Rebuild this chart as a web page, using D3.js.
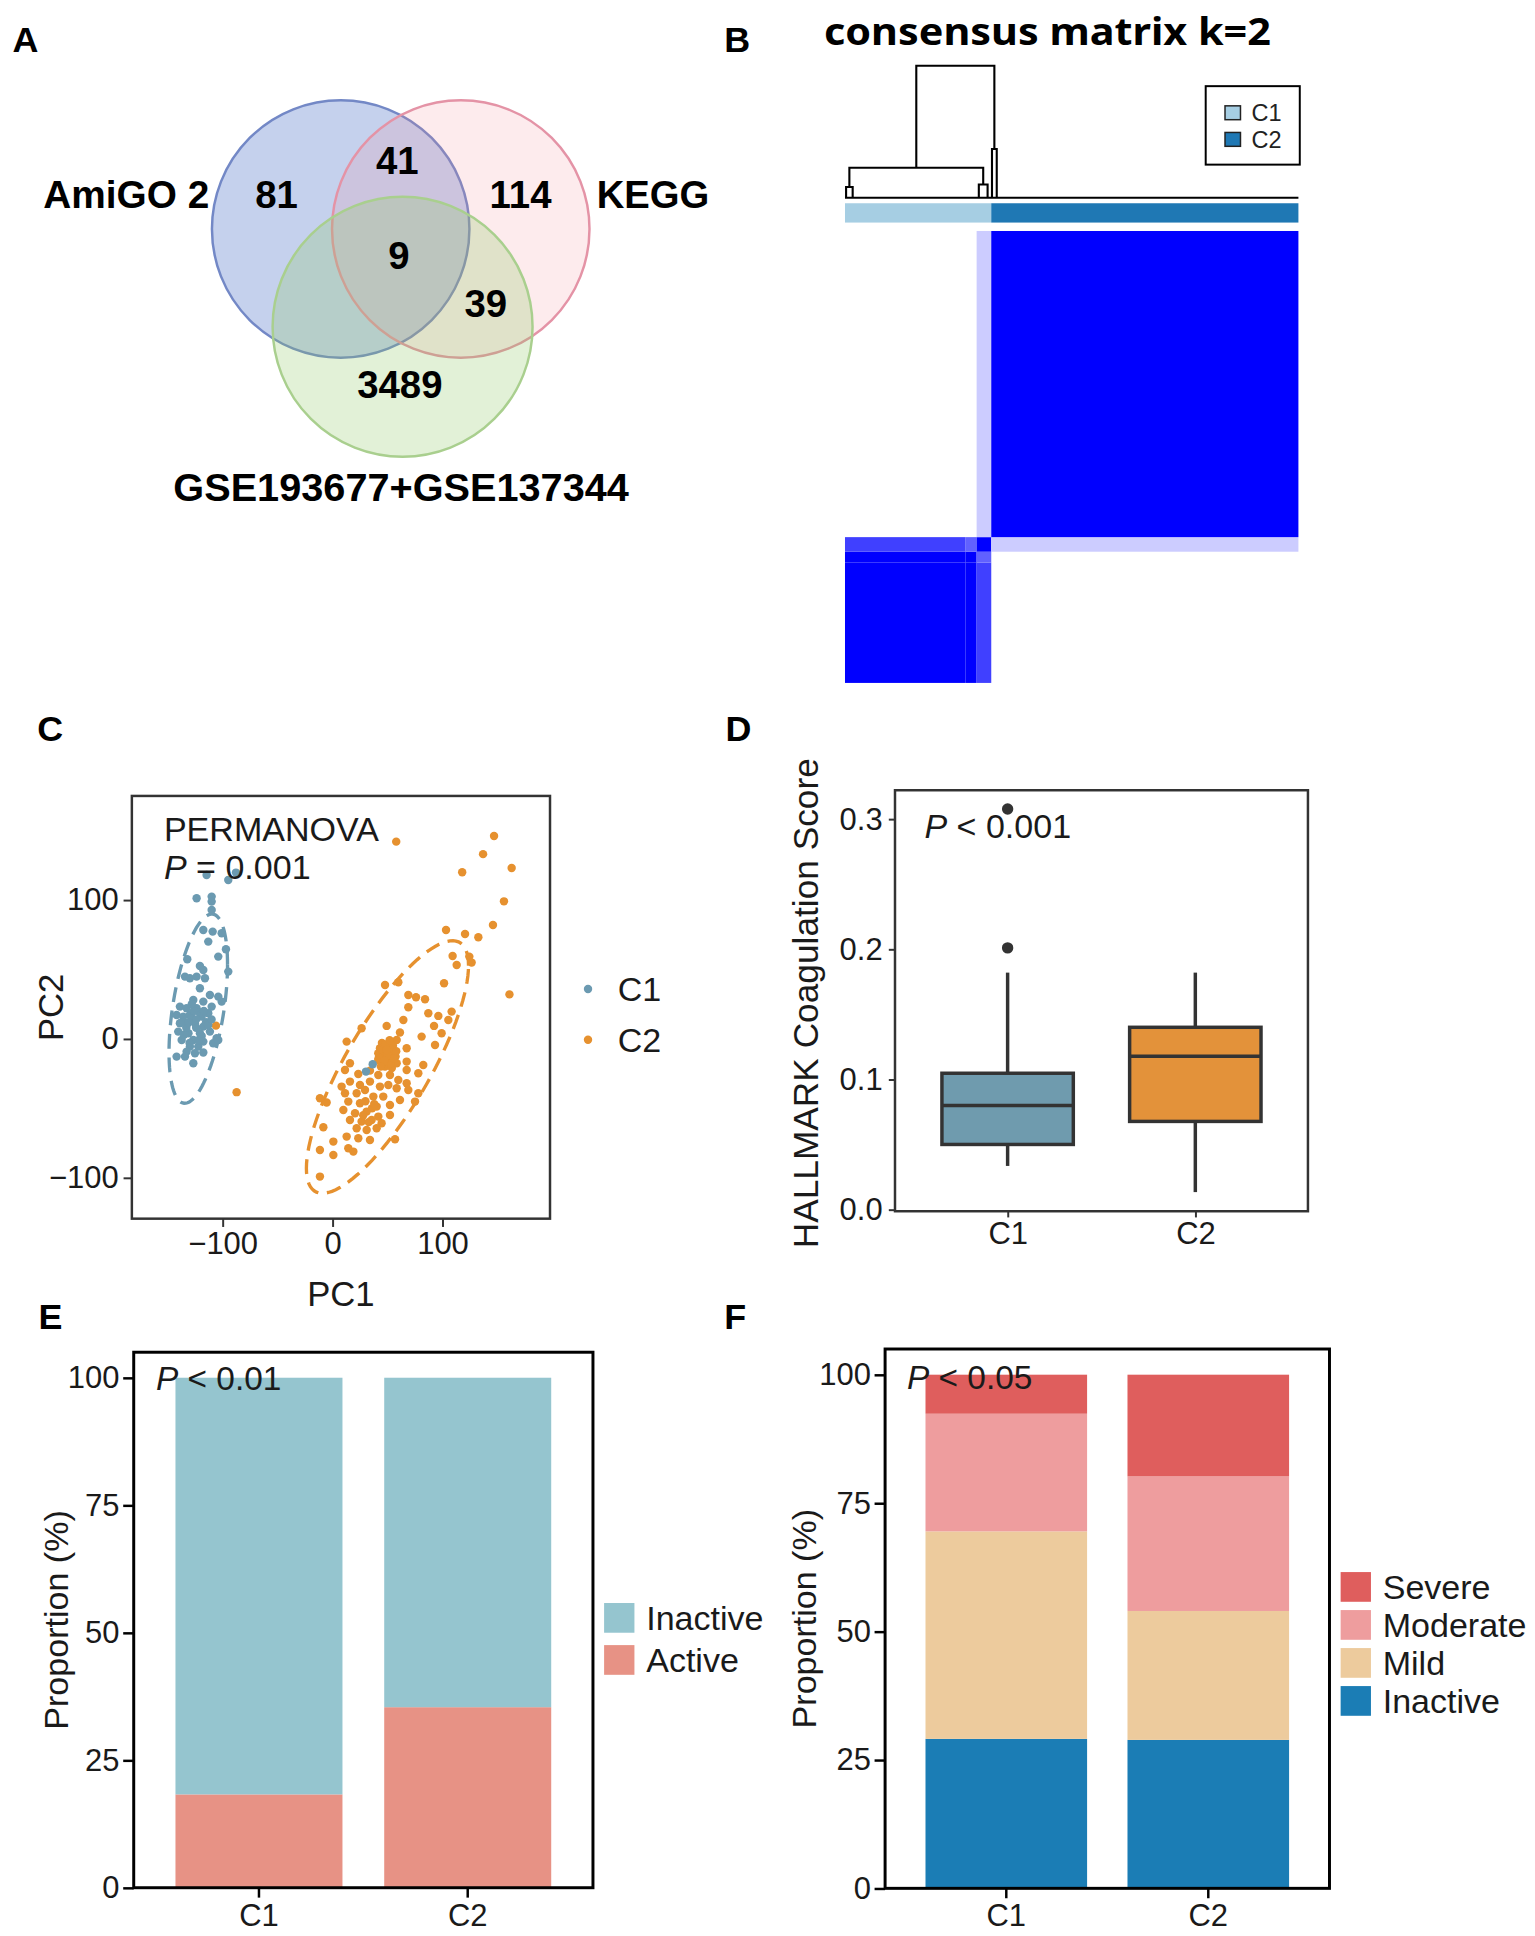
<!DOCTYPE html>
<html>
<head>
<meta charset="utf-8">
<script src="https://cdn.jsdelivr.net/npm/d3@7"></script>
<style>
  body { margin: 0; background: #fff; }
  svg { display: block; }
  text { font-family: "Liberation Sans", Arial, sans-serif; }
</style>
</head>
<body>
<svg id="fig"></svg>
<script>
// ---------------- data ----------------
// A: venn
const vennSets = ["AmiGO 2", "KEGG", "GSE193677+GSE137344"];
const vennRegions = ["A", "K", "G", "AK", "AKG", "KG"];
const vennCounts = [81, 114, 3489, 41, 9, 39];

// B: consensus matrix (sample blocks in column order)
const ccClusters = ["C1", "C2"];
const ccClusterSizes = [40, 84];
const ccBlockSizes = [33, 3, 4, 84];
const ccConsensus = [
  [1.00, 1.00, 0.75, 0.00],
  [1.00, 1.00, 0.62, 0.00],
  [0.75, 0.62, 1.00, 0.20],
  [0.00, 0.00, 0.20, 1.00]
];
// dendrogram merges (x in sample index, h in 1 - consensus)
const dendroMerges = [
  {x1: 0.3,  x2: 2.1,   h1: 0,     h2: 0,     h: 0.081},
  {x1: 36.6, x2: 39.0,  h1: 0,     h2: 0,     h: 0.10},
  {x1: 1.2,  x2: 37.8,  h1: 0.081, h2: 0.10,  h: 0.227},
  {x1: 40.2, x2: 41.5,  h1: 0,     h2: 0,     h: 0.369},
  {x1: 19.5, x2: 40.85, h1: 0.227, h2: 0.369, h: 1}
];

// C: PCA scores
const pcaC1 = [
  [-114.5,118],[-94.8,114.4],[-87.8,119.7],[-123.6,101.2],[-109.9,102.4],[-109.9,98.8],[-109.9,92.8],
  [-117.5,78.4],[-109,77.2],[-100.8,76],[-113,70],[-96.9,64.5],[-132.1,57.3],[-103.9,59.2],[-120.6,52.5],
  [-117.5,49.6],[-134.2,44.8],[-129.7,43.6],[-123.6,44.8],[-116,43.6],[-94.8,48.4],[-120.6,36.4],
  [-111.5,31.6],[-103.9,30.4],[-126.6,28],[-117.5,26.8],[-138.8,23.2],[-132.7,22],[-123.6,22],[-109.9,23.2],
  [-100.8,26.8],[-141.8,17.2],[-135.7,16],[-129.7,17.2],[-119,16],[-113,18.4],[-138.8,11.2],[-132.7,10],
  [-125.1,11.2],[-117.5,8.8],[-140.3,5.2],[-131,4],[-120.6,4],[-111.5,5.2],[-137.2,-0.8],[-126.6,-0.8],
  [-117.5,-2],[-105.4,0.4],[-129.7,-5.6],[-122.1,-5.6],[-108.5,-3.2],[-132.7,-9.2],[-125.1,-10.4],
  [-141.8,-12.8],[-134.2,-12.8],[-126.6,-17.6],[-117.5,-9.9],[-103.9,-0.8],
  [-128,15],[-124,8],[-135,3],[-121,19],[-115,12],[-130,-3],[-126,20],[-119,2],[-133,8],[-113,10],
  [-122,-1],[-128,25],[-117,20],[-137,12],[-110,14],[-124,14],[-131,12],
  [36.6,-18.3],[30.5,-23.6]
];
const pcaC2 = [
  [58,142],[147,146],[137,133],[118,120],[163,123],[156,99],[146,82],[161,32],
  [103.3,78.4],[120.6,75.5],[132.7,73.1],[109.3,59.7],[124.5,59.2],[126.6,54.9],[113,53.2],[101.5,40],
  [47.8,38.8],[59.9,40.7],[69,31.6],[76,29.9],[84.2,28.5],[69,22.7],[87.2,18.4],[96.3,16.5],[108.4,19.6],
  [105.4,13.6],[64.5,13.6],[49.3,9.3],[92.4,9.3],[26.5,7.6],[61.4,4.5],[99.3,4],[81.1,1.6],[12.9,-2],
  [58.4,-0.8],[93.3,-4.4],[67.5,-6.8],[43.2,-6.8],[49.3,-9.2],[55.3,-10.4],[46.2,-12.8],[52.3,-15.2],
  [41.7,-15.2],[58.4,-17.6],[47.8,-20],[67.5,-16.4],[82.6,-18.8],[15.9,-17.6],[11.4,-22.4],[23.5,-25.3],
  [34.1,-22.9],[41.7,-26],[52.3,-26],[67.5,-22.4],[78.1,-24.8],[59.9,-29.6],[67.5,-32],[15.9,-30.8],
  [8.3,-34.4],[25,-33.2],[34.1,-30.8],[43.2,-34.4],[50.8,-33.2],[58.4,-35.6],[69,-36.8],[78.1,-39.2],
  [-11.4,-42.8],[-5.3,-45.9],[11.4,-39.2],[22,-39.2],[29.6,-36.8],[37.2,-41.6],[46.2,-41.6],[61.4,-44],
  [75.1,-45.2],[14.4,-45.2],[25,-46.4],[40.2,-48.8],[52.3,-47.6],[9.9,-51.2],[20.5,-53.6],[31.1,-52.4],
  [41.7,-56],[52.3,-54.8],[15.9,-58.4],[26.5,-59.6],[35.6,-58.4],[44.7,-60.8],[22,-64.4],[31.1,-65.6],
  [40.2,-64.4],[-8.3,-63.7],[0.8,-74],[12.9,-70.4],[23.5,-71.6],[34.1,-72.8],[56.9,-72.3],[-11.4,-80],
  [0.8,-83.6],[14.4,-78.8],[19,-81.2],[-11.4,-99.2],
  [52.3,-6.8],[57.4,-12.8],[41.7,-10.4],[50.8,-17.6],[45,-3],[54,-21],
  [45,-8],[50,-12],[55,-5],[48,-4],[53,-18],[42,-14],[58,-9],[47,-16],[52,-1],[44,-20],[56,-14],[49,-8],
  [30,-45],[36,-50],[28,-55],[38,-47],[33,-60],
  [-106,9.5],[-87.2,-38.4]
];
const pcaGroups = ["C1", "C2"];

// D: box plot of HALLMARK coagulation score
const boxGroups = ["C1", "C2"];
const boxLow = [0.0335, 0.0134];
const boxQ1 = [0.050, 0.0677];
const boxMedian = [0.080, 0.1178];
const boxQ3 = [0.1047, 0.140];
const boxHigh = [0.182, 0.182];
const boxOutliers = [[0.201, 0.3077], []];
const boxTicks = [0.0, 0.1, 0.2, 0.3];

// E: activity proportions
const barGroups = ["C1", "C2"];
const activityLevels = ["Active", "Inactive"];
const activityActive = [18.3, 35.4];
const activityInactive = [81.7, 64.6];

// F: severity proportions
const severityLevels = ["Inactive", "Mild", "Moderate", "Severe"];
const severityInactive = [29.1, 28.9];
const severityMild = [40.4, 25.1];
const severityModerate = [22.9, 26.2];
const severitySevere = [7.6, 19.8];
const propTicks = [0, 25, 50, 75, 100];

// ---------------- drawing ----------------
const W = 1240, H = 1564;
const svg = d3.select("#fig")
  .attr("width", 1535).attr("height", 1936)
  .attr("viewBox", `0 0 ${W} ${H}`);

const INK = "#1a1a1a";
const FRAME = "#333333";
const TICK_FONT = 25;
const TITLE_FONT = 28;

function label(g, x, y, txt, opts) {
  opts = opts || {};
  const t = g.append("text")
    .attr("x", x).attr("y", y)
    .attr("font-size", opts.size || 24)
    .attr("fill", opts.fill || INK)
    .attr("text-anchor", opts.anchor || "start")
    .text(txt);
  if (opts.bold) t.attr("font-weight", "bold");
  if (opts.family) t.style("font-family", opts.family);
  if (opts.rotate) t.attr("transform", `rotate(${opts.rotate},${x},${y})`);
  if (opts.baseline) t.attr("dominant-baseline", opts.baseline);
  return t;
}

// panel letters
const panelLetters = [["A", 10, 42], ["B", 585, 42], ["C", 30, 599], ["D", 586, 599], ["E", 31, 1074], ["F", 585, 1074]];
panelLetters.forEach(p => label(svg, p[1], p[2], p[0], {size: 29, bold: true, fill: "#000"}));

// ===== A: Venn =====
const gA = svg.append("g");
const vennCircles = [
  {cx: 275.2, cy: 185, r: 104, fill: "#4A6FC7", op: 0.32, stroke: "#7388C6"},
  {cx: 372.2, cy: 185, r: 104, fill: "#F08090", op: 0.16, stroke: "#E493A6"},
  {cx: 325.2, cy: 264, r: 105, fill: "#8CC860", op: 0.25, stroke: "#A9CF8E"}
];
vennCircles.forEach(c => {
  gA.append("circle").attr("cx", c.cx).attr("cy", c.cy).attr("r", c.r)
    .attr("fill", c.fill).attr("fill-opacity", c.op)
    .attr("stroke", c.stroke).attr("stroke-width", 2);
});
const vennRegionPos = {A: [223.4, 168.3], K: [420.5, 168.3], G: [323, 321.3], AK: [321, 140.5], AKG: [322.3, 217], KG: [392.4, 256]};
vennRegions.forEach((r, i) => {
  label(gA, vennRegionPos[r][0], vennRegionPos[r][1], vennCounts[i], {size: 31, bold: true, anchor: "middle", fill: "#000"});
});
const vennSetPos = [[35, 168.3, "start", 134], [482, 168.3, "start", 91], [324, 404.7, "middle", 368]];
vennSets.forEach((s, i) => label(gA, vennSetPos[i][0], vennSetPos[i][1], s, {size: 31, bold: true, anchor: vennSetPos[i][2], fill: "#000"})
  .attr("textLength", vennSetPos[i][3]).attr("lengthAdjust", "spacingAndGlyphs"));

// ===== B: consensus matrix =====
const gB = svg.append("g");
const N = d3.sum(ccBlockSizes);
const xB = d3.scaleLinear().domain([0, N]).range([682.6, 1048.9]);
const yRow = d3.scaleLinear().domain([0, N]).range([551.7, 186.6]);
const hB = d3.scaleLinear().domain([0, 1]).range([159.7, 53.1]);
const ccColor = d3.interpolateRgb("#ffffff", "#0000ff");
const blockStart = ccBlockSizes.map((s, i) => d3.sum(ccBlockSizes.slice(0, i)));

ccConsensus.forEach((row, i) => {
  row.forEach((v, j) => {
    if (v <= 0) return;
    gB.append("rect")
      .attr("x", xB(blockStart[j]))
      .attr("width", xB(blockStart[j] + ccBlockSizes[j]) - xB(blockStart[j]))
      .attr("y", yRow(blockStart[i] + ccBlockSizes[i]))
      .attr("height", yRow(blockStart[i]) - yRow(blockStart[i] + ccBlockSizes[i]))
      .attr("fill", ccColor(v));
  });
});

// cluster colour bar
const ccClusterColors = d3.scaleOrdinal().domain(ccClusters).range(["#A6CEE3", "#1F78B4"]);
ccClusters.forEach((c, i) => {
  const s = d3.sum(ccClusterSizes.slice(0, i));
  gB.append("rect")
    .attr("x", xB(s)).attr("width", xB(s + ccClusterSizes[i]) - xB(s))
    .attr("y", 164.2).attr("height", 15.6)
    .attr("fill", ccClusterColors(c));
});

// dendrogram
const dendro = gB.append("g").attr("stroke", "#000").attr("stroke-width", 1.7).attr("fill", "none");
dendroMerges.forEach(m => {
  dendro.append("path").attr("d",
    `M${xB(m.x1)},${hB(m.h1)}V${hB(m.h)}H${xB(m.x2)}V${hB(m.h2)}`);
});
dendro.append("line").attr("x1", xB(0)).attr("x2", xB(N)).attr("y1", hB(0)).attr("y2", hB(0));

// title
label(gB, 665.6, 36, "consensus matrix k=2", {size: 30, bold: true, fill: "#000", family: "'Noto Sans', 'Open Sans', sans-serif"})
  .attr("textLength", 361).attr("lengthAdjust", "spacingAndGlyphs");

// legend
gB.append("rect").attr("x", 974).attr("y", 69.6).attr("width", 76).attr("height", 63.4)
  .attr("fill", "#fff").attr("stroke", "#000").attr("stroke-width", 1.6);
ccClusters.forEach((c, i) => {
  gB.append("rect").attr("x", 989.6).attr("y", 85.5 + i * 21.5).attr("width", 12.5).attr("height", 11.2)
    .attr("fill", ccClusterColors(c)).attr("stroke", "#222").attr("stroke-width", 1.2);
  label(gB, 1011, 91.2 + i * 21.5, c, {size: 19, baseline: "central", fill: "#222"});
});

// ===== C: PCA =====
const gC = svg.append("g");
const C = {l: 106.5, r: 444.3, t: 643, b: 984.5};
const xC = d3.scaleLinear().domain([-182.5, 197.9]).range([C.l, C.r]);
const yC = d3.scaleLinear().domain([-129.5, 174.9]).range([C.b, C.t]);
const pcaColor = d3.scaleOrdinal().domain(pcaGroups).range(["#6B9AB1", "#E6912F"]);

gC.append("clipPath").attr("id", "clipC").append("rect")
  .attr("x", C.l).attr("y", C.t).attr("width", C.r - C.l).attr("height", C.b - C.t);

// robust (multivariate t) ellipse, as stat_ellipse(type = "t", level = 0.95)
function tEllipse(pts) {
  const n = pts.length, nu = 5;
  let w = pts.map(() => 1), mx = 0, my = 0, a = 0, b = 0, c = 0;
  for (let it = 0; it < 200; it++) {
    const sw = d3.sum(w);
    mx = d3.sum(pts, (p, i) => w[i] * p[0]) / sw;
    my = d3.sum(pts, (p, i) => w[i] * p[1]) / sw;
    a = d3.sum(pts, (p, i) => w[i] * (p[0] - mx) ** 2) / n;
    b = d3.sum(pts, (p, i) => w[i] * (p[0] - mx) * (p[1] - my)) / n;
    c = d3.sum(pts, (p, i) => w[i] * (p[1] - my) ** 2) / n;
    const det = a * c - b * b;
    w = pts.map(p => {
      const dx = p[0] - mx, dy = p[1] - my;
      const q = (c * dx * dx - 2 * b * dx * dy + a * dy * dy) / det;
      return (nu + 2) / (nu + q);
    });
  }
  const dfd = n - 1;
  const fq = dfd / 2 * (Math.pow(0.05, -2 / dfd) - 1);
  const rad = Math.sqrt(2 * fq);
  const r11 = Math.sqrt(a), r12 = b / r11, r22 = Math.sqrt(c - r12 * r12);
  return d3.range(0, 2 * Math.PI + 0.001, 2 * Math.PI / 100).map(t => [
    mx + rad * Math.cos(t) * r11,
    my + rad * (Math.cos(t) * r12 + Math.sin(t) * r22)
  ]);
}

const pcaSets = [pcaC2, pcaC1];
const pcaSetGroups = ["C2", "C1"];
const ellipseLine = d3.line().x(d => xC(d[0])).y(d => yC(d[1]));
const plotC = gC.append("g").attr("clip-path", "url(#clipC)");
pcaSets.forEach((pts, k) => {
  // points sitting inside the other cluster are left out of the ellipse fit
  const fitPts = pts.filter(p => pcaSetGroups[k] === "C1" ? p[0] < 0 : p[0] > -50);
  plotC.append("path").attr("d", ellipseLine(tEllipse(fitPts)))
    .attr("fill", "none").attr("stroke", pcaColor(pcaSetGroups[k]))
    .attr("stroke-width", 2.7).attr("stroke-dasharray", "12 7");
});
pcaSets.forEach((pts, k) => {
  plotC.selectAll(null).data(pts).enter().append("circle")
    .attr("cx", d => xC(d[0])).attr("cy", d => yC(d[1])).attr("r", 3.4)
    .attr("fill", pcaColor(pcaSetGroups[k]));
});
gC.append("rect").attr("x", C.l).attr("y", C.t).attr("width", C.r - C.l).attr("height", C.b - C.t)
  .attr("fill", "none").attr("stroke", FRAME).attr("stroke-width", 2);

function styleAxis(g, size) {
  g.select(".domain").remove();
  g.selectAll(".tick line").attr("stroke", FRAME).attr("stroke-width", 1.6);
  g.selectAll(".tick text").attr("fill", INK).attr("font-size", size || TICK_FONT)
    .style("font-family", "'Liberation Sans', Arial, sans-serif");
}
const minusFmt = d => (d < 0 ? "\u2212" : "") + Math.abs(d);
gC.append("g").attr("transform", `translate(0,${C.b})`)
  .call(d3.axisBottom(xC).tickValues([-100, 0, 100]).tickFormat(minusFmt).tickSize(6.7).tickPadding(4))
  .call(g => styleAxis(g));
gC.append("g").attr("transform", `translate(${C.l},0)`)
  .call(d3.axisLeft(yC).tickValues([-100, 0, 100]).tickFormat(minusFmt).tickSize(6.7).tickPadding(4))
  .call(g => styleAxis(g));
label(gC, (C.l + C.r) / 2, 1055, "PC1", {size: TITLE_FONT, anchor: "middle"});
label(gC, 51, (C.t + C.b) / 2, "PC2", {size: TITLE_FONT, anchor: "middle", rotate: -90});
label(gC, 132.4, 679, "PERMANOVA", {size: 27.5});
const pt = label(gC, 132.4, 710, "", {size: 27.5});
pt.append("tspan").attr("font-style", "italic").text("P");
pt.append("tspan").text(" = 0.001");
pcaGroups.forEach((gname, i) => {
  gC.append("circle").attr("cx", 475).attr("cy", 799 + i * 41).attr("r", 3.4).attr("fill", pcaColor(gname));
  label(gC, 499, 799 + i * 41, gname, {size: 27.5, baseline: "central"});
});

// ===== D: box plot =====
const gD = svg.append("g");
const D = {l: 723, r: 1056.6, t: 638.4, b: 978.5};
const xD = d3.scalePoint().domain(boxGroups).range([D.l, D.r]).padding(0.6);
const yD = d3.scaleLinear().domain([-0.0013, 0.3221]).range([D.b, D.t]);
const boxFill = d3.scaleOrdinal().domain(boxGroups).range(["#6F9BAE", "#E3923A"]);
const boxW = xD.step() * 0.7;
boxGroups.forEach((gname, i) => {
  const cx = xD(gname);
  const g = gD.append("g").attr("stroke", FRAME).attr("stroke-width", 2.8);
  g.append("line").attr("x1", cx).attr("x2", cx).attr("y1", yD(boxQ3[i])).attr("y2", yD(boxHigh[i]));
  g.append("line").attr("x1", cx).attr("x2", cx).attr("y1", yD(boxQ1[i])).attr("y2", yD(boxLow[i]));
  g.append("rect").attr("x", cx - boxW / 2).attr("width", boxW)
    .attr("y", yD(boxQ3[i])).attr("height", yD(boxQ1[i]) - yD(boxQ3[i]))
    .attr("fill", boxFill(gname));
  g.append("line").attr("x1", cx - boxW / 2).attr("x2", cx + boxW / 2)
    .attr("y1", yD(boxMedian[i])).attr("y2", yD(boxMedian[i]));
  boxOutliers[i].forEach(v => {
    gD.append("circle").attr("cx", cx).attr("cy", yD(v)).attr("r", 4.6).attr("fill", FRAME);
  });
});
gD.append("rect").attr("x", D.l).attr("y", D.t).attr("width", D.r - D.l).attr("height", D.b - D.t)
  .attr("fill", "none").attr("stroke", FRAME).attr("stroke-width", 2);
gD.append("g").attr("transform", `translate(${D.l},0)`)
  .call(d3.axisLeft(yD).tickValues(boxTicks).tickFormat(d3.format(".1f")).tickSize(5).tickPadding(5))
  .call(g => styleAxis(g));
gD.append("g").attr("transform", `translate(0,${D.b})`)
  .call(d3.axisBottom(xD).tickSize(5).tickPadding(4))
  .call(g => styleAxis(g));
label(gD, 661, (D.t + D.b) / 2 + 2, "HALLMARK Coagulation Score", {size: 28.5, anchor: "middle", rotate: -90});
const pd = label(gD, 746.8, 677, "", {size: 27.5});
pd.append("tspan").attr("font-style", "italic").text("P");
pd.append("tspan").text(" < 0.001");

// ===== E & F: stacked proportion bars =====
function propPanel(P, keys, series, colors, ptext, legend) {
  const g = svg.append("g");
  const x = d3.scaleBand().domain(barGroups).range([P.l, P.r]).paddingInner(0.2).paddingOuter(0.2);
  const y = d3.scaleLinear().domain([0, 105]).range([P.b, P.t]);
  const rows = barGroups.map((gname, i) => {
    const o = {group: gname};
    keys.forEach((k, j) => { o[k] = series[j][i]; });
    return o;
  });
  const stacked = d3.stack().keys(keys)(rows);
  const col = d3.scaleOrdinal().domain(keys).range(colors);
  stacked.forEach(layer => {
    g.selectAll(null).data(layer).enter().append("rect")
      .attr("x", d => x(d.data.group)).attr("width", x.bandwidth())
      .attr("y", d => y(d[1])).attr("height", d => y(d[0]) - y(d[1]))
      .attr("fill", col(layer.key));
  });
  g.append("rect").attr("x", P.l).attr("y", P.t).attr("width", P.r - P.l).attr("height", P.b - P.t)
    .attr("fill", "none").attr("stroke", "#000").attr("stroke-width", 2.4);
  const ay = g.append("g").attr("transform", `translate(${P.l},0)`)
    .call(d3.axisLeft(y).tickValues(propTicks).tickSize(8.5).tickPadding(3));
  styleAxis(ay);
  ay.selectAll(".tick line").attr("stroke", "#000").attr("stroke-width", 2);
  const ax = g.append("g").attr("transform", `translate(0,${P.b})`)
    .call(d3.axisBottom(x).tickSize(8).tickPadding(5));
  styleAxis(ax);
  ax.selectAll(".tick line").attr("stroke", "#000").attr("stroke-width", 2);
  label(g, P.titleX, (P.t + P.b) / 2, "Proportion (%)", {size: 27.5, anchor: "middle", rotate: -90});
  const pt = label(g, P.pX, P.pY, "", {size: 27});
  pt.append("tspan").attr("font-style", "italic").text("P");
  pt.append("tspan").text(ptext);
  legend.order.forEach((k, i) => {
    const ky = legend.y0 + i * legend.step;
    g.append("rect").attr("x", legend.x).attr("y", ky).attr("width", 24.5).attr("height", 24)
      .attr("fill", col(k));
    label(g, legend.x + 34, ky + 12, k, {size: 27.5, baseline: "central"});
  });
}

propPanel({l: 108, r: 479, t: 1092.4, b: 1525, titleX: 55, pX: 126, pY: 1123},
  activityLevels, [activityActive, activityInactive], ["#E79285", "#95C5CF"],
  " < 0.01", {x: 488, y0: 1295, step: 34, order: ["Inactive", "Active"]});

propPanel({l: 715, r: 1074, t: 1089.8, b: 1525.5, titleX: 659, pX: 732.7, pY: 1122},
  severityLevels, [severityInactive, severityMild, severityModerate, severitySevere],
  ["#1B7DB5", "#EDCB9D", "#EE9D9E", "#DF5E5D"],
  " < 0.05", {x: 1083, y0: 1270, step: 30.7, order: ["Severe", "Moderate", "Mild", "Inactive"]});
</script>
</body>
</html>
